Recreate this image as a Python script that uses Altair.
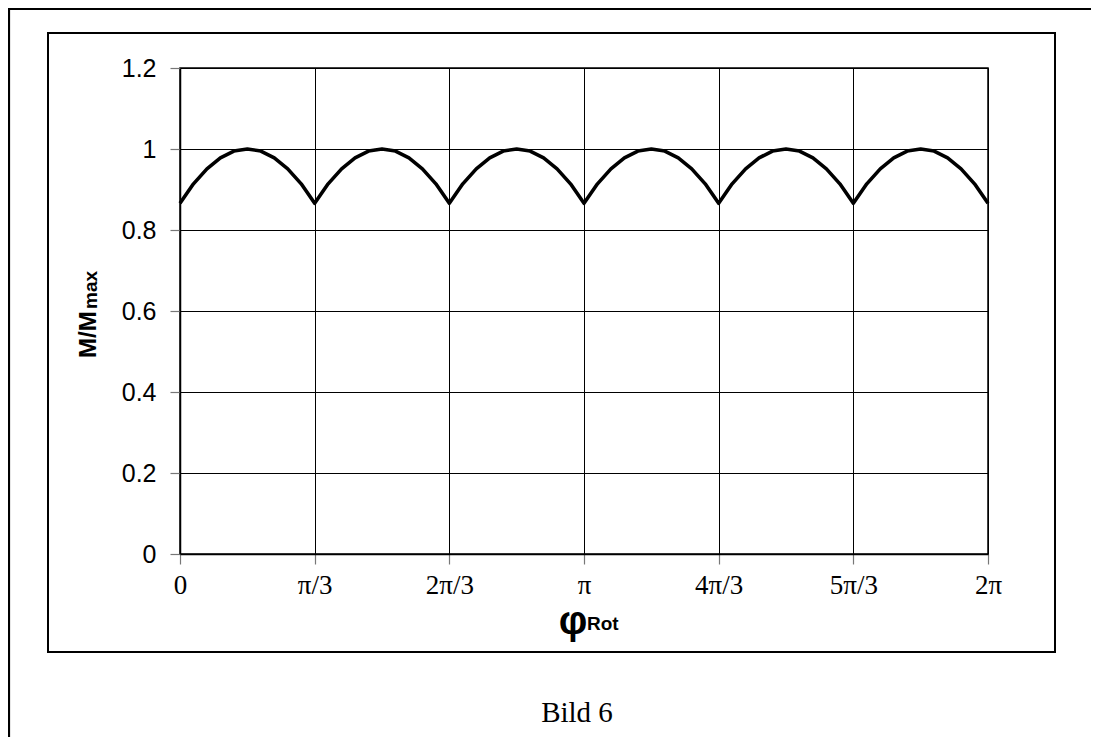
import altair as alt
import pandas as pd

# Rotor angle in units of pi/3 (0 ... 6 = 2*pi)
phi = [0.0, 0.1, 0.2, 0.3, 0.4, 0.5, 0.6, 0.7, 0.8, 0.9,
       1.0, 1.1, 1.2, 1.3, 1.4, 1.5, 1.6, 1.7, 1.8, 1.9,
       2.0, 2.1, 2.2, 2.3, 2.4, 2.5, 2.6, 2.7, 2.8, 2.9,
       3.0, 3.1, 3.2, 3.3, 3.4, 3.5, 3.6, 3.7, 3.8, 3.9,
       4.0, 4.1, 4.2, 4.3, 4.4, 4.5, 4.6, 4.7, 4.8, 4.9,
       5.0, 5.1, 5.2, 5.3, 5.4, 5.5, 5.6, 5.7, 5.8, 5.9,
       6.0]
# M / Mmax
m_rel = [0.866, 0.914, 0.951, 0.978, 0.995, 1.000, 0.995, 0.978, 0.951, 0.914,
         0.866, 0.914, 0.951, 0.978, 0.995, 1.000, 0.995, 0.978, 0.951, 0.914,
         0.866, 0.914, 0.951, 0.978, 0.995, 1.000, 0.995, 0.978, 0.951, 0.914,
         0.866, 0.914, 0.951, 0.978, 0.995, 1.000, 0.995, 0.978, 0.951, 0.914,
         0.866, 0.914, 0.951, 0.978, 0.995, 1.000, 0.995, 0.978, 0.951, 0.914,
         0.866, 0.914, 0.951, 0.978, 0.995, 1.000, 0.995, 0.978, 0.951, 0.914,
         0.866]

x_tick_values = [0, 1, 2, 3, 4, 5, 6]
x_tick_labels = ["0", "π/3", "2π/3", "π", "4π/3", "5π/3", "2π"]
y_tick_values = [0, 0.2, 0.4, 0.6, 0.8, 1.0, 1.2]

df = pd.DataFrame({"phi": phi, "m": m_rel})

label_expr = "[" + ",".join('"%s"' % s for s in x_tick_labels) + "][round(datum.value)]"

W, H = 808, 486

line = alt.Chart(df).mark_line(color="black", strokeWidth=3.6, strokeJoin="round").encode(
    x=alt.X("phi:Q",
            scale=alt.Scale(domain=[0, 6], nice=False, zero=False),
            axis=alt.Axis(values=x_tick_values, labelExpr=label_expr, title=None,
                          grid=True, gridColor="black", gridOpacity=1, gridWidth=1,
                          domainColor="black", domainWidth=1.5,
                          tickColor="#777777", tickSize=10, tickWidth=1.2,
                          labelFont="Liberation Serif", labelFontSize=27,
                          labelColor="black", labelPadding=8, labelFlush=False)),
    y=alt.Y("m:Q",
            scale=alt.Scale(domain=[0, 1.2], nice=False, zero=True),
            axis=alt.Axis(values=y_tick_values, format="~g", title=None,
                          grid=True, gridColor="black", gridOpacity=1, gridWidth=1,
                          domainColor="black", domainWidth=1.5,
                          tickColor="#777777", tickSize=10, tickWidth=1.2,
                          labelFont="Liberation Sans", labelFontSize=25,
                          labelColor="black", labelPadding=14, labelFlush=False)),
)

one = alt.Data(values=[{"k": 1}])

def box(x1, y1, x2, y2, sw):
    return alt.Chart(one).mark_rect(filled=False, stroke="black", strokeWidth=sw).encode(
        x=alt.value(x1), x2=alt.value(x2), y=alt.value(y1), y2=alt.value(y2))

outer = box(-171, -59, 940, 720, 2.2)
inner = box(-132, -35, 875, 584, 2.0)

def txt(s, x, y, size, font, weight="normal", align="center", baseline="alphabetic", angle=0):
    kw = dict(fontSize=size, font=font, fontWeight=weight, align=align,
              baseline=baseline, color="black")
    if angle:
        kw["angle"] = angle
    return alt.Chart(one).mark_text(**kw).encode(
        x=alt.value(x), y=alt.value(y), text=alt.value(s))

phi_title = txt("φ", 393, 566, 40, "Liberation Sans", "bold")
rot_title = txt("Rot", 407, 562, 19, "Liberation Sans", "bold", align="left")
m_title = txt("M/M", -84, 290, 24, "Liberation Sans", "bold", align="left", angle=270)
max_title = txt("max", -83, 241, 19, "Liberation Sans", "bold", align="left", angle=270)
caption = txt("Bild 6", 397, 654, 29, "Liberation Serif")

chart = alt.layer(outer, inner, line, phi_title, rot_title, m_title, max_title, caption).properties(
    width=W, height=H,
    autosize=alt.AutoSizeParams(type="none"),
    padding={"left": 172, "top": 60, "right": 103, "bottom": 183},
    background="white",
).configure_view(stroke="black", strokeWidth=1.5)

chart.save("out.html", embed_options={"renderer": "svg", "actions": False})
